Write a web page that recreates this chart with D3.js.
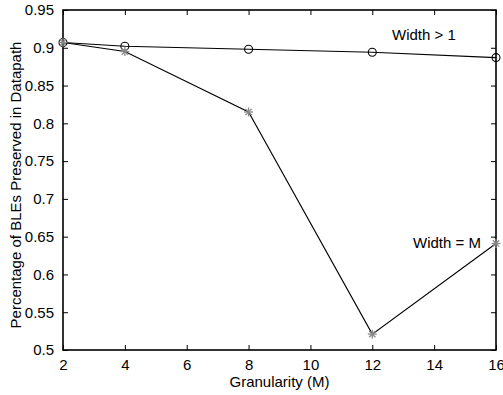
<!DOCTYPE html>
<html><head><meta charset="utf-8">
<script src="https://cdn.jsdelivr.net/npm/d3@7"></script>
<style>
html,body{margin:0;padding:0;background:#fff;}
text{font-family:"Liberation Sans",Arial,sans-serif;}
</style></head>
<body>
<svg id="chart" width="503" height="395"></svg>
<script>
const granularity = [2, 4, 8, 12, 16];
const widthGt1 = [0.907, 0.902, 0.898, 0.894, 0.887];
const widthEqM = [0.907, 0.895, 0.815, 0.521, 0.641];
const xTicks = [2, 4, 6, 8, 10, 12, 14, 16];
const yTicks = [0.5, 0.55, 0.6, 0.65, 0.7, 0.75, 0.8, 0.85, 0.9, 0.95];
const xLabel = "Granularity (M)";
const yLabel = "Percentage of BLEs Preserved in Datapath";
const labelGt1 = "Width > 1";
const labelEqM = "Width = M";

const svg = d3.select("#chart");
const L = 63, R = 496, T = 10, B = 350;
const x = d3.scaleLinear().domain([2, 16]).range([L, R]);
const y = d3.scaleLinear().domain([0.5, 0.95]).range([B, T]);
const fs = 15;

// axes with inward ticks
const tl = 5;
const gx = svg.append("g").attr("transform", `translate(0,${B})`)
  .call(d3.axisBottom(x).tickValues(xTicks).tickSize(-tl).tickPadding(tl + 4).tickFormat(d3.format("d")));
const gxt = svg.append("g").attr("transform", `translate(0,${T})`)
  .call(d3.axisTop(x).tickValues(xTicks).tickSize(-tl).tickFormat(""));
const gy = svg.append("g").attr("transform", `translate(${L},0)`)
  .call(d3.axisLeft(y).tickValues(yTicks).tickSize(-tl).tickPadding(tl + 4).tickFormat(d => String(+d.toFixed(2))));
const gyr = svg.append("g").attr("transform", `translate(${R},0)`)
  .call(d3.axisRight(y).tickValues(yTicks).tickSize(-tl).tickFormat(""));
[gx, gxt, gy, gyr].forEach(g => {
  g.select(".domain").remove();
  g.selectAll(".tick line").attr("stroke", "#000").attr("stroke-width", 1);
  g.selectAll("text").attr("fill", "#000").attr("font-size", fs)
    .style("font-family", '"Liberation Sans",Arial,sans-serif');
});
gx.selectAll("text").attr("dy", "0.71em");
// box
svg.append("rect").attr("x", L).attr("y", T).attr("width", R - L).attr("height", B - T)
  .attr("fill", "none").attr("stroke", "#000").attr("stroke-width", 1.6);

const line = d3.line().x((d, i) => x(granularity[i])).y(d => y(d));
svg.append("path").datum(widthGt1).attr("d", line).attr("fill", "none").attr("stroke", "#000").attr("stroke-width", 1.1);
svg.append("path").datum(widthEqM).attr("d", line).attr("fill", "none").attr("stroke", "#000").attr("stroke-width", 1.1);

// circle markers
svg.append("g").selectAll("circle").data(widthGt1).join("circle")
  .attr("cx", (d, i) => x(granularity[i])).attr("cy", d => y(d)).attr("r", 4)
  .attr("fill", "none").attr("stroke", "#000").attr("stroke-width", 1.1);

// asterisk markers
const star = svg.append("g").selectAll("g").data(widthEqM).join("g")
  .attr("transform", (d, i) => `translate(${x(granularity[i])},${y(d)})`);
const s = 4.5;
[[-s,0,s,0],[0,-s,0,s],[-s*0.7,-s*0.7,s*0.7,s*0.7],[-s*0.7,s*0.7,s*0.7,-s*0.7]].forEach(c => {
  star.append("line").attr("x1", c[0]).attr("y1", c[1]).attr("x2", c[2]).attr("y2", c[3])
    .attr("stroke", "#888").attr("stroke-width", 1.3);
});

// annotations
svg.append("text").attr("x", 392).attr("y", 40).attr("font-size", fs).text(labelGt1);
svg.append("text").attr("x", 413).attr("y", 248).attr("font-size", fs).text(labelEqM);

// axis titles
svg.append("text").attr("x", (L + R) / 2).attr("y", 387).attr("text-anchor", "middle").attr("font-size", fs).text(xLabel);
svg.append("text").attr("transform", `translate(21,${(T + B) / 2 + 5}) rotate(-90)`)
  .attr("text-anchor", "middle").attr("font-size", fs).text(yLabel);
</script>
</body></html>
